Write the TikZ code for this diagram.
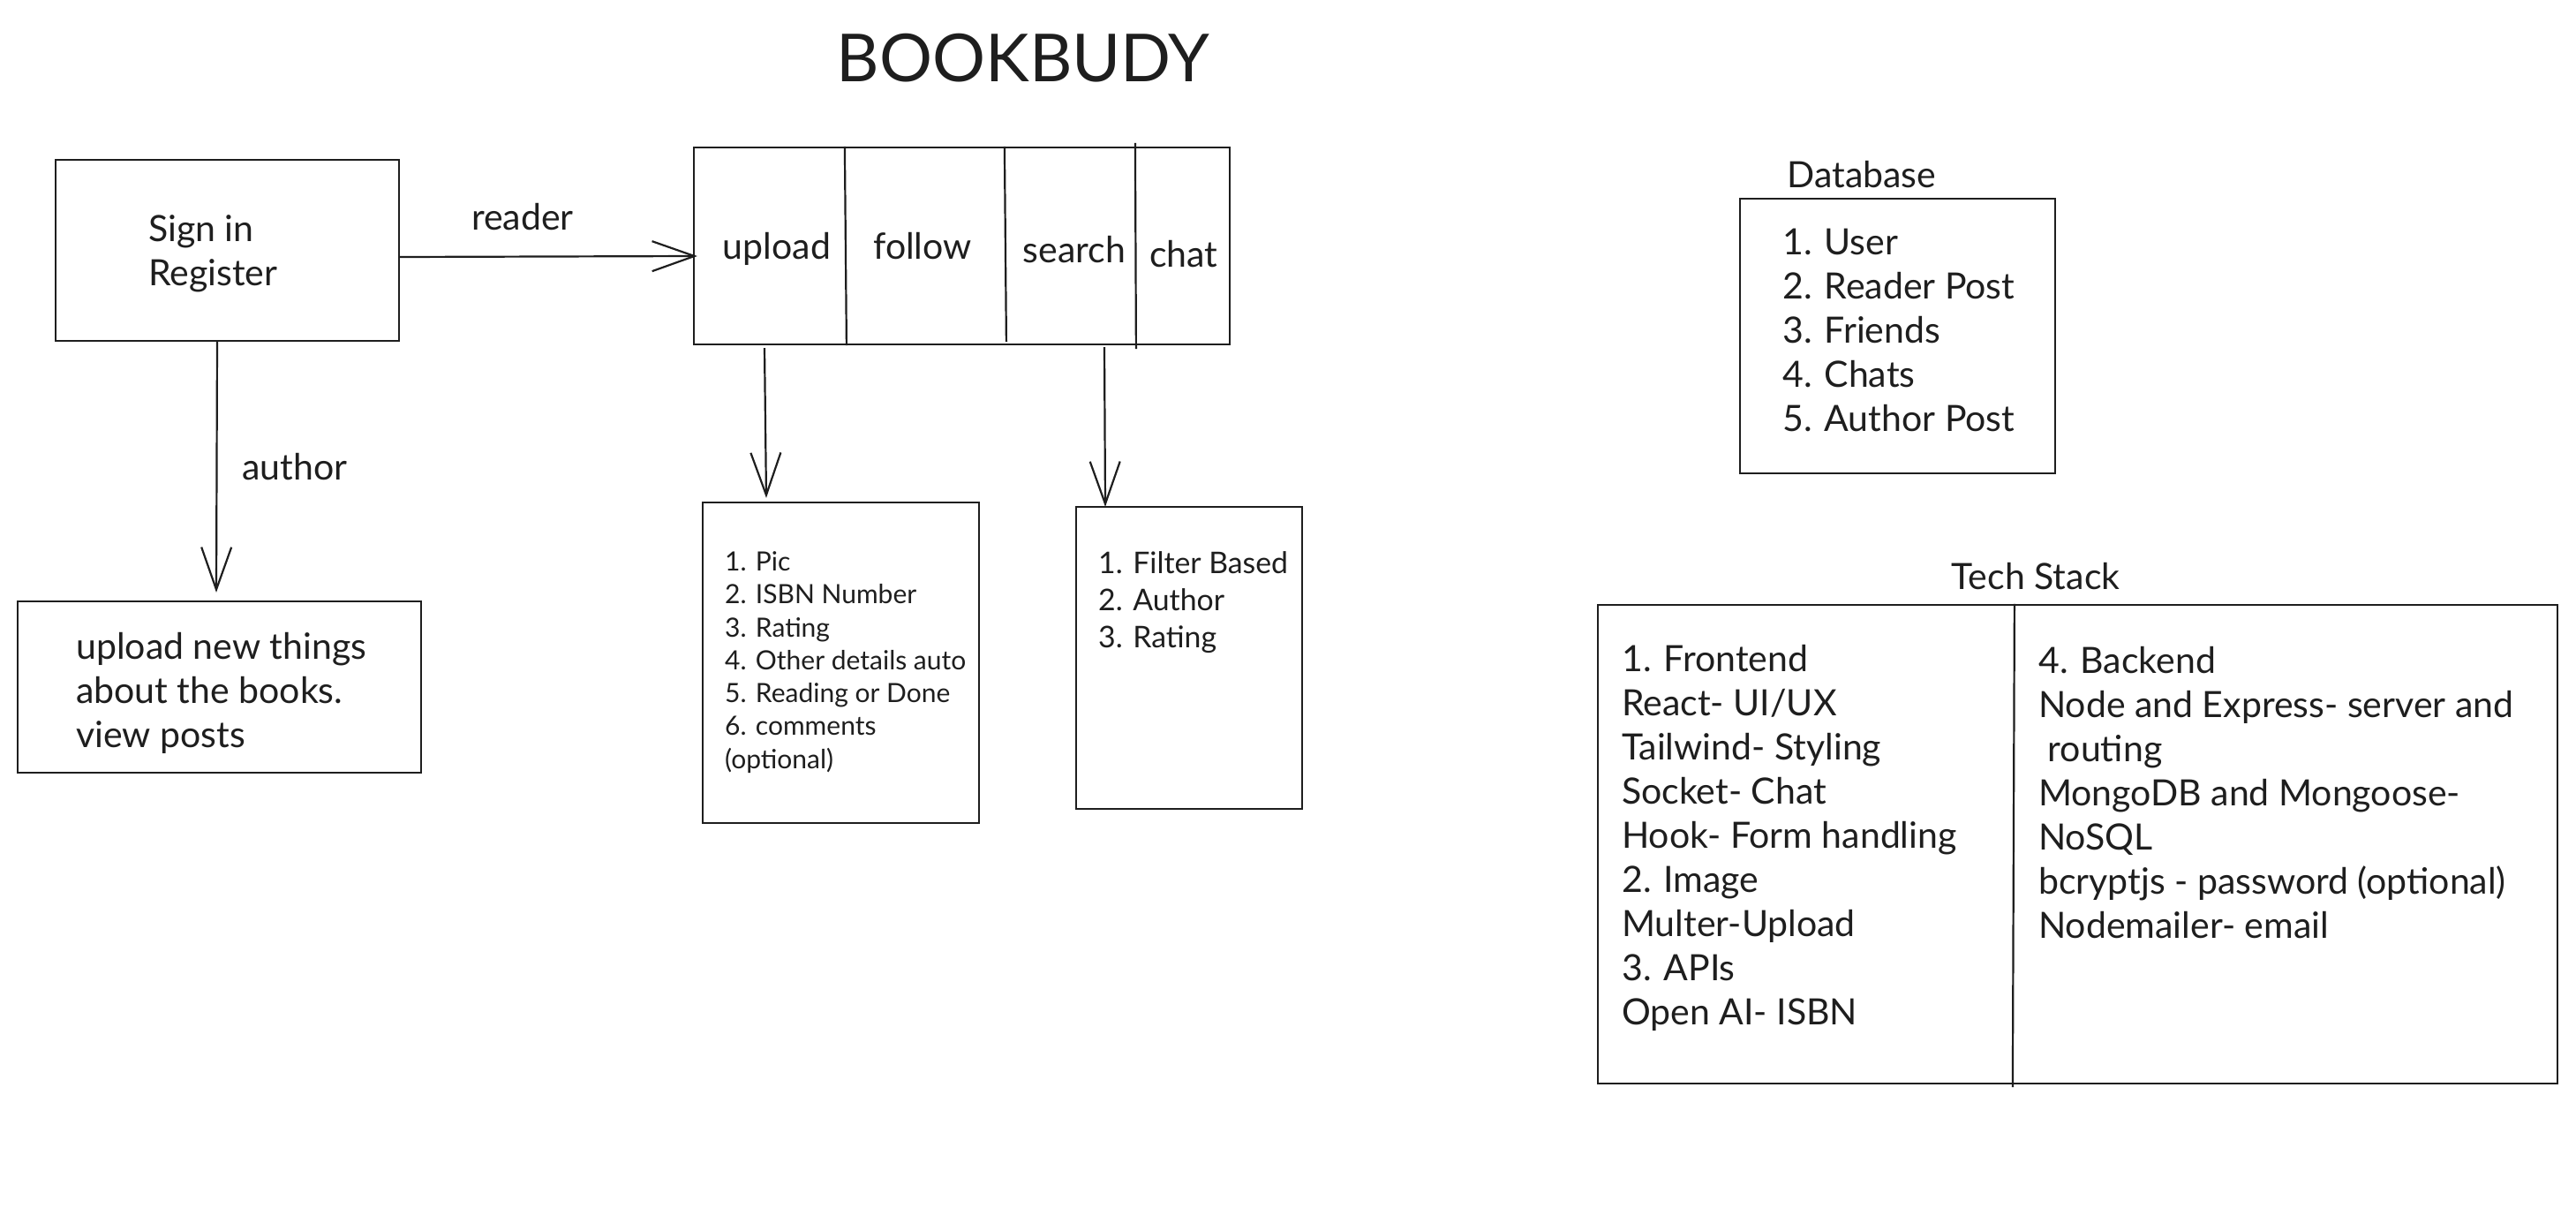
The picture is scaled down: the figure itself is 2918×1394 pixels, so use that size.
\documentclass[tikz,border=0pt]{standalone}
\usepackage{fontspec}
\setmainfont{Lato}
\usetikzlibrary{arrows.meta}
\definecolor{ink}{HTML}{1E1E1E}

\begin{document}
\begin{tikzpicture}[x=1pt,y=-1pt,
    box/.style={draw=ink,line width=2.2pt,inner sep=0pt},
    txt/.style={text=ink,align=left,inner sep=0pt,font=\fontsize{41}{50}\selectfont},
    arr/.style={draw=ink,line width=2.2pt,-{Straight Barb[length=48pt,width=34pt]}}]
\useasboundingbox[fill=white] (0,0) rectangle (2918,1394);

\node[txt,font=\fontsize{75}{80}\selectfont] (title) at (1159,65.5) {BOOKBUDY};

\node[box,minimum width=389,minimum height=205] (signin) at (257.5,283.5) {};
\node[txt,anchor=west] (signintxt) at (168,287) {Sign in\\Register};
\node[box,minimum width=607,minimum height=223] (menu) at (1089.5,278.5) {};
\draw[box] ([xshift=172pt]menu.north west) -- ([xshift=174pt]menu.south west);
\draw[box] ([xshift=353pt]menu.north west) -- ([xshift=355pt,yshift=4pt]menu.south west);
\draw[box] ([xshift=501pt,yshift=4pt]menu.north west) -- ([xshift=502pt,yshift=-4pt]menu.south west);
\node[txt] (upload) at (880,282) {upload};
\node[txt] (follow) at (1045,279) {follow};
\node[txt] (search) at (1217,283) {search};
\node[txt] (chat) at (1341,288) {chat};

\node[box,minimum width=457,minimum height=194] (authorbox) at (248.5,778) {};
\node[txt,anchor=west] (authortxt) at (86,784.5) {upload new things\\about the books.\\view posts};
\node[box,minimum width=313,minimum height=363] (uploadbox) at (952.5,750.5) {};
\node[txt,anchor=west,font=\fontsize{30}{37.3}\selectfont] (uploadtxt) at (821,750) {1. Pic\\2. ISBN Number\\3. Rating\\4. Other details auto\\5. Reading or Done\\6. comments\\(optional)};
\node[box,minimum width=256,minimum height=342] (searchbox) at (1347,745) {};
\node[txt,anchor=west,font=\fontsize{33.8}{42}\selectfont] (searchtxt) at (1244,682) {1. Filter Based\\2. Author\\3. Rating};

\draw[arr] ([yshift=-7.5pt]signin.east) -- ([xshift=5pt,yshift=-11.5pt]menu.west);
\node[txt] (reader) at (592,246) {reader};
\draw[arr] ([xshift=-11.5pt]signin.south) -- ([xshift=-3.5pt,yshift=9pt]authorbox.north);
\node[txt] (author) at (334,528.5) {author};
\draw[arr] ([xshift=-223.5pt,yshift=-3pt]menu.south) -- ([xshift=-84.5pt,yshift=4pt]uploadbox.north);
\draw[arr] ([xshift=161.5pt,yshift=-2pt]menu.south) -- ([xshift=-95pt,yshift=-1pt]searchbox.north);

\node[txt] (database) at (2109,198) {Database};
\node[box,minimum width=357,minimum height=311] (db) at (2149.5,380.5) {};
\node[txt,anchor=west] (dbtxt) at (2019,373.5) {1. User\\2. Reader Post\\3. Friends\\4. Chats\\5. Author Post};

\node[txt] (techstack) at (2306,653) {Tech Stack};
\node[box,minimum width=1087,minimum height=542] (tech) at (2353.5,956) {};
\draw[box] ([xshift=473pt]tech.north west) -- ([xshift=471pt,yshift=-3pt]tech.south west);
\node[txt,anchor=west] (frontend) at (1837,949) {1. Frontend\\React- UI/UX\\Tailwind- Styling\\Socket- Chat\\Hook- Form handling\\2. Image\\Multer-Upload\\3. APIs\\Open AI- ISBN};
\node[txt,anchor=west] (backend) at (2309,898) {4. Backend\\Node and Express- server and\\\ routing\\MongoDB and Mongoose-\\NoSQL\\bcryptjs - password (optional)\\Nodemailer- email};
\end{tikzpicture}
\end{document}
